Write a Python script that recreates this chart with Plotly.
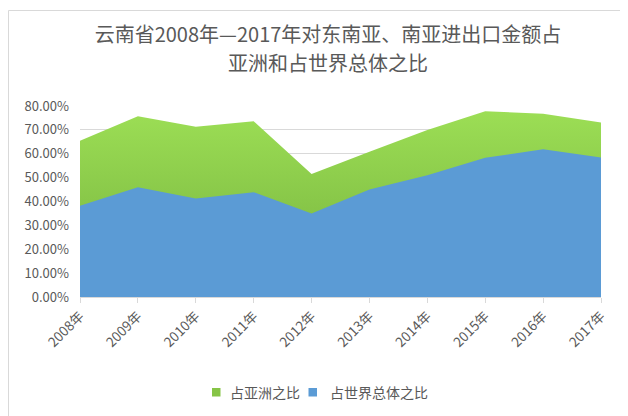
import plotly.graph_objects as go

years = ["2008年", "2009年", "2010年", "2011年", "2012年", "2013年", "2014年", "2015年", "2016年", "2017年"]
asia_share = [65.4, 75.7, 71.3, 73.6, 51.5, 60.8, 69.9, 77.8, 76.8, 73.1]
world_share = [38.2, 46.0, 41.3, 43.9, 35.0, 45.0, 51.0, 58.3, 61.9, 58.4]
y_ticks = [0, 10, 20, 30, 40, 50, 60, 70, 80]
series_names = ["占亚洲之比", "占世界总体之比"]
title_lines = ["云南省2008年—2017年对东南亚、南亚进出口金额占", "亚洲和占世界总体之比"]

font_fam = "Noto Sans CJK SC, Noto Sans, sans-serif"
gray = "#595959"
green_top, green_bot = "#9CDE55", "#74B03C"
blue = "#5B9BD5"

fig = go.Figure()
fig.add_trace(go.Scatter(
    x=years, y=asia_share, name=series_names[0], mode="none", fill="tozeroy",
    fillgradient=dict(type="vertical", colorscale=[[0, green_bot], [1, green_top]]),
    fillcolor="#8CCB4C", showlegend=False,
))
fig.add_trace(go.Scatter(
    x=years, y=world_share, name=series_names[1], mode="none", fill="tozeroy",
    fillcolor=blue, showlegend=False,
))

# page is shown with an 8px body margin, so work in (image - 8) coordinates
OFF = 8
W, H = 628, 416
L, T = 80 - OFF, 106 - OFF
pw, ph = 521, 191
R, B = W - L - pw, H - T - ph

def px(x):
    return (x - OFF - L) / pw

def py(y):
    return (H - B - (y - OFF)) / ph

# manual legend: swatch squares + labels
legend_items = [
    (series_names[0], "#86C446", 212, 228),
    (series_names[1], blue, 308.5, 328),
]
shapes = [dict(
    type="rect", xref="paper", yref="paper",
    x0=px(8.5), x1=px(640), y0=py(440), y1=py(10.5),
    line=dict(color="#D9D9D9", width=1), fillcolor="rgba(0,0,0,0)", layer="below",
)]
annotations = [dict(
    text=title_lines[1], xref="paper", yref="paper", x=px(328), y=py(63),
    xanchor="center", yanchor="middle", showarrow=False,
    font=dict(size=20, color=gray, family=font_fam),
)]
for name, col, sx, tx in legend_items:
    shapes.append(dict(
        type="rect", xref="paper", yref="paper",
        x0=px(sx), x1=px(sx + 8.5), y0=py(396.5), y1=py(388),
        line=dict(width=0), fillcolor=col,
    ))
    annotations.append(dict(
        text=name, xref="paper", yref="paper", x=px(tx), y=py(392),
        xanchor="left", yanchor="middle", showarrow=False,
        font=dict(size=14, color=gray, family=font_fam),
    ))

fig.update_layout(
    width=W, height=H,
    margin=dict(l=L, r=R, t=T, b=B, autoexpand=False),
    paper_bgcolor="white", plot_bgcolor="white",
    font=dict(family=font_fam, color=gray),
    title=dict(
        text=title_lines[0],
        x=(328 - OFF) / W, xanchor="center", xref="container",
        y=1 - (35 - OFF) / H, yanchor="middle", yref="container",
        font=dict(size=20, color=gray, family=font_fam),
    ),
    showlegend=False,
    shapes=shapes,
    annotations=annotations,
)
fig.update_xaxes(
    type="category", range=[0, 9], showgrid=False, automargin=False,
    showline=True, linecolor="#D9D9D9", linewidth=1,
    ticks="outside", ticklen=5, tickcolor="#D9D9D9",
    tickangle=-45, tickfont=dict(size=13.5, color=gray),
)
fig.update_yaxes(
    range=[0, 80], tickvals=y_ticks, ticktext=[f"{v:.2f}%" for v in y_ticks],
    showgrid=True, gridcolor="#D9D9D9", gridwidth=1, zeroline=False, showline=False,
    tickfont=dict(size=13, color=gray), ticks="", ticklabelstandoff=10, automargin=False,
)

fig.write_html("out.html")
